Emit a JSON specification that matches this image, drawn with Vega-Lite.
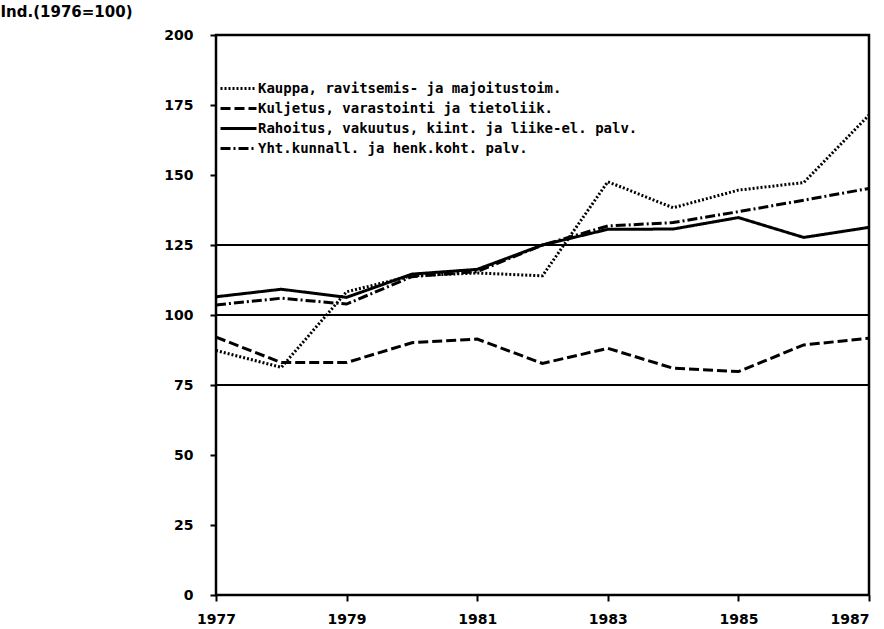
{
  "$schema": "https://vega.github.io/schema/vega-lite/v6.json",
  "width": 653,
  "height": 560,
  "autosize": "none",
  "padding": {"left": 216, "top": 35, "right": 15, "bottom": 34},
  "background": "white",
  "config": {
    "view": {"stroke": "black", "strokeWidth": 2.5},
    "font": "DejaVu Sans Mono"
  },
  "datasets": {
    "series": [
      {"year": 1977, "sector": "Kauppa, ravitsemis- ja majoitustoim.", "value": 87.3},
      {"year": 1978, "sector": "Kauppa, ravitsemis- ja majoitustoim.", "value": 81.3},
      {"year": 1979, "sector": "Kauppa, ravitsemis- ja majoitustoim.", "value": 108.3},
      {"year": 1980, "sector": "Kauppa, ravitsemis- ja majoitustoim.", "value": 114.0},
      {"year": 1981, "sector": "Kauppa, ravitsemis- ja majoitustoim.", "value": 115.0},
      {"year": 1982, "sector": "Kauppa, ravitsemis- ja majoitustoim.", "value": 114.0},
      {"year": 1983, "sector": "Kauppa, ravitsemis- ja majoitustoim.", "value": 147.6},
      {"year": 1984, "sector": "Kauppa, ravitsemis- ja majoitustoim.", "value": 138.3},
      {"year": 1985, "sector": "Kauppa, ravitsemis- ja majoitustoim.", "value": 144.6},
      {"year": 1986, "sector": "Kauppa, ravitsemis- ja majoitustoim.", "value": 147.3},
      {"year": 1987, "sector": "Kauppa, ravitsemis- ja majoitustoim.", "value": 171.4},
      {"year": 1977, "sector": "Kuljetus, varastointi ja tietoliik.", "value": 92.1},
      {"year": 1978, "sector": "Kuljetus, varastointi ja tietoliik.", "value": 83.0},
      {"year": 1979, "sector": "Kuljetus, varastointi ja tietoliik.", "value": 83.0},
      {"year": 1980, "sector": "Kuljetus, varastointi ja tietoliik.", "value": 90.1},
      {"year": 1981, "sector": "Kuljetus, varastointi ja tietoliik.", "value": 91.4},
      {"year": 1982, "sector": "Kuljetus, varastointi ja tietoliik.", "value": 82.7},
      {"year": 1983, "sector": "Kuljetus, varastointi ja tietoliik.", "value": 88.1},
      {"year": 1984, "sector": "Kuljetus, varastointi ja tietoliik.", "value": 81.0},
      {"year": 1985, "sector": "Kuljetus, varastointi ja tietoliik.", "value": 79.8},
      {"year": 1986, "sector": "Kuljetus, varastointi ja tietoliik.", "value": 89.3},
      {"year": 1987, "sector": "Kuljetus, varastointi ja tietoliik.", "value": 91.7},
      {"year": 1977, "sector": "Rahoitus, vakuutus, kiint. ja liike-el. palv.", "value": 106.5},
      {"year": 1978, "sector": "Rahoitus, vakuutus, kiint. ja liike-el. palv.", "value": 109.2},
      {"year": 1979, "sector": "Rahoitus, vakuutus, kiint. ja liike-el. palv.", "value": 106.3},
      {"year": 1980, "sector": "Rahoitus, vakuutus, kiint. ja liike-el. palv.", "value": 114.6},
      {"year": 1981, "sector": "Rahoitus, vakuutus, kiint. ja liike-el. palv.", "value": 116.3},
      {"year": 1982, "sector": "Rahoitus, vakuutus, kiint. ja liike-el. palv.", "value": 125.0},
      {"year": 1983, "sector": "Rahoitus, vakuutus, kiint. ja liike-el. palv.", "value": 130.6},
      {"year": 1984, "sector": "Rahoitus, vakuutus, kiint. ja liike-el. palv.", "value": 130.7},
      {"year": 1985, "sector": "Rahoitus, vakuutus, kiint. ja liike-el. palv.", "value": 134.8},
      {"year": 1986, "sector": "Rahoitus, vakuutus, kiint. ja liike-el. palv.", "value": 127.7},
      {"year": 1987, "sector": "Rahoitus, vakuutus, kiint. ja liike-el. palv.", "value": 131.3},
      {"year": 1977, "sector": "Yht.kunnall. ja henk.koht. palv.", "value": 103.6},
      {"year": 1978, "sector": "Yht.kunnall. ja henk.koht. palv.", "value": 106.0},
      {"year": 1979, "sector": "Yht.kunnall. ja henk.koht. palv.", "value": 103.9},
      {"year": 1980, "sector": "Yht.kunnall. ja henk.koht. palv.", "value": 113.7},
      {"year": 1981, "sector": "Yht.kunnall. ja henk.koht. palv.", "value": 115.5},
      {"year": 1982, "sector": "Yht.kunnall. ja henk.koht. palv.", "value": 125.0},
      {"year": 1983, "sector": "Yht.kunnall. ja henk.koht. palv.", "value": 131.8},
      {"year": 1984, "sector": "Yht.kunnall. ja henk.koht. palv.", "value": 133.0},
      {"year": 1985, "sector": "Yht.kunnall. ja henk.koht. palv.", "value": 136.9},
      {"year": 1986, "sector": "Yht.kunnall. ja henk.koht. palv.", "value": 141.0},
      {"year": 1987, "sector": "Yht.kunnall. ja henk.koht. palv.", "value": 145.2}
    ],
    "grid": [{"level": 75}, {"level": 100}, {"level": 125}]
  },
  "layer": [
    {
      "data": {"name": "grid"},
      "mark": {"type": "rule", "color": "black", "strokeWidth": 2.2},
      "encoding": {
        "y": {"field": "level", "type": "quantitative", "scale": {"domain": [0, 200]}}
      }
    },
    {
      "data": {"name": "series"},
      "mark": {"type": "line", "color": "black", "strokeWidth": 3},
      "encoding": {
        "x": {
          "field": "year", "type": "quantitative",
          "scale": {"domain": [1977, 1987], "nice": false, "zero": false},
          "axis": {
            "title": null, "values": [1977, 1979, 1981, 1983, 1985, 1987], "format": "d",
            "grid": false, "domain": false, "tickColor": "black", "tickWidth": 2, "tickSize": 6,
            "labelFont": "DejaVu Sans", "labelFontWeight": "bold", "labelFontSize": 14,
            "labelColor": "black", "labelPadding": 11, "labelFlush": false,
            "labelAlign": {"condition": {"test": "datum.value >= 1987", "value": "right"}, "value": "center"}
          }
        },
        "y": {
          "field": "value", "type": "quantitative",
          "scale": {"domain": [0, 200], "nice": false},
          "axis": {
            "title": "Ind.(1976=100)", "titleAngle": 0, "titleAlign": "left", "titleBaseline": "middle",
            "titleX": -216, "titleY": -24, "titleFont": "DejaVu Sans", "titleFontWeight": "bold",
            "titleFontSize": 15, "titleColor": "black",
            "values": [0, 25, 50, 75, 100, 125, 150, 175, 200],
            "grid": false, "domain": false, "tickColor": "black", "tickWidth": 2, "tickSize": 6,
            "labelFont": "DejaVu Sans", "labelFontWeight": "bold", "labelFontSize": 14,
            "labelColor": "black", "labelPadding": 17
          }
        },
        "strokeDash": {
          "field": "sector", "type": "nominal",
          "scale": {
            "domain": [
              "Kauppa, ravitsemis- ja majoitustoim.",
              "Kuljetus, varastointi ja tietoliik.",
              "Rahoitus, vakuutus, kiint. ja liike-el. palv.",
              "Yht.kunnall. ja henk.koht. palv."
            ],
            "range": [[2, 2], [10, 4], [1, 0], [10, 3, 2, 3]]
          },
          "legend": {
            "title": null, "orient": "none", "legendX": 12, "legendY": 43,
            "symbolType": "M-2,0H2", "symbolSize": 324, "symbolStrokeWidth": 3,
            "symbolStrokeColor": "black", "symbolFillColor": "transparent", "symbolOffset": 0,
            "labelFont": "DejaVu Sans Mono", "labelFontWeight": "bold", "labelFontSize": 14,
            "labelColor": "black", "labelOffset": 9, "rowPadding": 2, "labelLimit": 500
          }
        }
      }
    }
  ]
}
